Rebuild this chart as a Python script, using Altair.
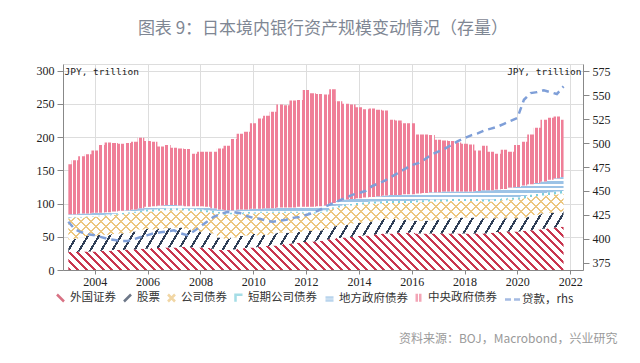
import altair as alt
import numpy as np
import pandas as pd

# ---------------- data (JPY trillion, quarterly 2003Q1-2021Q4) ----------------
quarters = [f"{y}-{m:02d}-01" for y in range(2003, 2022) for m in (1, 4, 7, 10)]

foreign_sec = [27, 27, 28, 28, 28, 29, 29, 30, 30, 31, 31, 32, 32, 33, 33, 34,
               34, 35, 35, 34, 34, 33, 32, 30, 30, 31, 32, 33, 34, 35, 36, 37,
               38, 39, 40, 41, 42, 43, 44, 46, 47, 48, 49, 50, 51, 52, 53, 54,
               55, 55, 56, 56, 56, 55, 55, 55, 55, 55, 55, 55, 55, 55, 55, 55,
               56, 57, 58, 58, 58, 59, 60, 61, 62, 63, 64, 65]
stocks = [19, 20, 21, 23, 24, 24, 24, 24, 25, 25, 27, 29, 30, 28, 29, 29,
          30, 29, 27, 26, 24, 25, 23, 19, 17, 18, 19, 19, 20, 17, 17, 18,
          18, 17, 16, 16, 18, 16, 16, 16, 19, 19, 19, 20, 20, 20, 20, 21,
          22, 22, 20, 20, 19, 19, 19, 20, 21, 22, 23, 24, 24, 24, 25, 23,
          22, 21, 20, 22, 20, 20, 20, 22, 23, 23, 23, 23]
corp_bonds = [32, 32, 30, 29, 28, 28, 29, 29, 29, 29, 28, 26, 26, 27, 27, 27,
              26, 26, 27, 29, 30, 29, 31, 36, 36, 35, 33, 33, 31, 34, 33, 31,
              30, 30, 30, 29, 25, 26, 26, 26, 26, 27, 28, 27, 27, 27, 27, 25,
              24, 24, 25, 25, 26, 28, 28, 28, 27, 26, 26, 25, 25, 25, 24, 25,
              25, 26, 27, 26, 28, 29, 30, 28, 27, 27, 27, 27]
short_corp = [1, 1, 1, 1, 1, 1, 1.5, 1.5, 2, 2, 2, 2, 3, 3, 3, 3,
              3, 3, 3, 3, 3, 3, 3, 2.5, 2.5, 2.5, 2.5, 2.5, 2, 2, 2, 2,
              2, 2, 2, 2, 2, 2, 2, 2, 2.5, 2.5, 2.5, 2.5, 3, 3, 3, 3,
              3, 3, 3, 3, 3, 3, 3, 3, 3, 3, 3, 3, 3, 3, 3, 3,
              3, 3, 3, 3, 3.5, 3.5, 3.5, 3.5, 4, 4, 4, 4]
local_gov = [5, 4, 5, 4, 5, 4, 3.5, 3.5, 3, 3, 3, 4, 4, 5, 5, 5,
             5, 4, 4, 4, 5, 5, 4, 3.5, 4.5, 3.5, 4.5, 3.5, 5, 4, 5, 5,
             6, 6, 6, 7, 8, 8, 8, 7, 6.5, 7.5, 7.5, 7.5, 7, 7, 7, 8,
             8, 9, 9, 10, 10, 10, 11, 11, 11, 12, 11, 11, 11, 11, 12, 14,
             14, 14, 14, 15, 15.5, 15.5, 15.5, 16.5, 17, 19, 20, 21]
central_gov = [75, 81, 86, 89, 94, 102, 105, 103, 101, 101, 102, 106, 99, 97, 89, 90,
               86, 86, 86, 79, 82, 83, 85, 92, 97, 107, 114, 117, 129, 136, 139, 145,
               155, 154, 161, 161, 176, 171, 169, 167, 171, 150, 144, 142, 137, 133, 133, 130,
               128, 113, 112, 107, 107, 89, 88, 86, 79, 77, 76, 74, 72, 71, 61, 67,
               58, 54, 59, 54, 63, 66, 75, 83, 93, 93, 93, 86]
loans = [418, 410, 407, 405, 404, 402, 400, 399, 398, 398, 400, 402, 404, 406, 407, 408,
         409, 406, 404, 408, 413, 418, 423, 426, 428, 428, 427, 424, 422, 421, 419, 418,
         419, 420, 422, 423, 425, 427, 430, 434, 437, 440, 443, 446, 448, 450, 455, 458,
         461, 465, 469, 473, 477, 479, 483, 488, 491, 494, 498, 502, 505, 508, 510, 513,
         515, 517, 520, 523, 526, 545, 552, 553, 555, 553, 551, 559]

series_names = ["外国证券", "股票", "公司债券", "短期公司债券", "地方政府债券", "中央政府债券"]
loan_name = "贷款，rhs"
x_tick_years = list(range(2004, 2023, 2))
left_ticks = [0, 50, 100, 150, 200, 250, 300]
right_ticks = [375, 400, 425, 450, 475, 500, 525, 550, 575]

# ---------------- layout / style ----------------
W, H = 520, 206
L_DOM = [0, 310]
R_DOM = [367.7, 582.3]
X_DOM = ("2002-10-19", "2022-06-27")

RED, NAVY, YEL, TEAL, LBLUE, PINK, LOANC = ("#c8364f", "#2f3e56", "#ecc67e", "#7fcfdc",
                                             "#9cc3e6", "#ef7f98", "#7f9fd8")
WHITE, CLEAR = "#ffffff", "rgba(255,255,255,0)"
SERIF = "'Liberation Serif', 'Times New Roman', 'DejaVu Serif', serif"
CJK = "'Noto Sans CJK SC', sans-serif"
MONO = "'DejaVu Sans Mono', 'Liberation Mono', monospace"


def dt(s):
    t = pd.Timestamp(s)
    return alt.DateTime(year=t.year, month=t.month, date=t.day, utc=True)


df = pd.DataFrame({"date": quarters, "loans": loans})
vals = np.array([foreign_sec, stocks, corp_bonds, short_corp, local_gov, central_gov], dtype=float)
cum = np.vstack([np.zeros(len(quarters)), np.cumsum(vals, axis=0)])
for i in range(cum.shape[0]):
    df[f"b{i}"] = cum[i]

# pixel geometry of each stacked band (for pattern gradients)
t0, t1 = pd.Timestamp(X_DOM[0]), pd.Timestamp(X_DOM[1])
band_w = W * (pd.Timestamp(quarters[-1]) - pd.Timestamp(quarters[0])).value / (t1 - t0).value


def band_h(i):
    return (cum[i + 1].max() - cum[i].min()) * H / (L_DOM[1] - L_DOM[0])


def hatch(w, h, slope, period, frac, fg, bg, horizontal=False):
    """Striped fill built from a hard-stop linear gradient (bbox units)."""
    if horizontal:
        p1, p2, span = (0.0, 0.0), (0.0, 1.0), h
    else:
        k = slope * h / w
        dd = 1 + k * k
        f0, f1 = min(0.0, k), 1 + max(0.0, k)
        L = f1 - f0
        p1 = (f0 / dd, k * f0 / dd)
        p2 = (p1[0] + L / dd, p1[1] + k * L / dd)
        span = w * L
    n = span / period
    stops = []
    i = 0
    while i < n:
        a = i / n
        b = min((i + frac) / n, 1.0)
        c = min((i + 1) / n, 1.0)
        stops += [alt.GradientStop(offset=round(a, 5), color=fg),
                  alt.GradientStop(offset=round(b, 5), color=fg),
                  alt.GradientStop(offset=round(b, 5), color=bg),
                  alt.GradientStop(offset=round(c, 5), color=bg)]
        i += 1
    return alt.LinearGradient(gradient="linear", stops=stops,
                              x1=p1[0], y1=p1[1], x2=p2[0], y2=p2[1])


x_scale = alt.Scale(type="utc", domain=[dt(X_DOM[0]), dt(X_DOM[1])])
x_axis = alt.Axis(values=[alt.DateTime(year=y, month=1, date=1, utc=True) for y in x_tick_years],
                  format="%Y", labelFont=SERIF, labelFontSize=12, labelColor="#222",
                  tickSize=4, labelPadding=2, labelFlush=False,
                  title="资料来源：BOJ，Macrobond，兴业研究", titleFont=CJK, titleFontSize=12,
                  titleFontWeight="normal", titleColor="#9a9a9a", titleAlign="right",
                  titleBaseline="middle", titleX=554, titleY=68, titleAngle=0)
X = alt.X("date:T", scale=x_scale, axis=x_axis)
ys = alt.Scale(domain=L_DOM, nice=False, zero=False)
left_axis = alt.Axis(values=left_ticks, orient="left", tickSize=6, labelPadding=3,
                     labelFont=SERIF, labelFontSize=12, labelColor="#222",
                     title="JPY, trillion", titleFont=MONO, titleFontSize=9.5,
                     titleFontWeight="normal", titleColor="#222", titleAngle=0,
                     titleAlign="left", titleBaseline="middle", titleX=1, titleY=7)

base = alt.Chart(df)


def band(i, fill):
    return base.mark_area(interpolate="step", fill=fill).encode(
        x=X,
        y=alt.Y(f"b{i + 1}:Q", scale=ys, axis=left_axis),
        y2=alt.Y2(f"b{i}:Q"),
    )


layers = [
    band(0, hatch(band_w, band_h(0), -1.0, 8.5, 0.34, RED, WHITE)),
    band(1, hatch(band_w, band_h(1), 0.6, 11.0, 0.22, NAVY, WHITE)),
    band(2, hatch(band_w, band_h(2), -1.0, 10.0, 0.17, YEL, WHITE)),
    band(2, hatch(band_w, band_h(2), 1.0, 10.0, 0.17, YEL, CLEAR)),
    band(3, hatch(band_w, band_h(3), 0.0, 6.0, 0.3, TEAL, WHITE)),
    band(4, hatch(band_w, band_h(4), 0.0, 4.5, 0.5, LBLUE, WHITE, horizontal=True)),
    band(5, hatch(band_w, band_h(5), 0.0, 4.4, 0.72, PINK, WHITE)),
]

# legend (invisible clipped points carrying colour + icon shape)
legend_names = series_names + [loan_name]
legend_colors = [RED, NAVY, YEL, TEAL, LBLUE, PINK, LOANC]
legend_shapes = ["M-0.7,-0.7L0.7,0.7",
                 "M-0.7,0.7L0.7,-0.7",
                 "M-0.7,-0.7L0.7,0.7M-0.7,0.7L0.7,-0.7",
                 "M-0.6,0.8L-0.6,-0.6L0.8,-0.6",
                 "M-0.8,-0.3L0.8,-0.3M-0.8,0.3L0.8,0.3",
                 "M-0.35,-0.8L-0.35,0.8M0.35,-0.8L0.35,0.8",
                 "M-1.5,0L-0.3,0M0.3,0L1.5,0"]
leg_df = pd.DataFrame({"name": legend_names, "date": quarters[0], "v": -100})
leg = alt.Legend(title=None, orient="none", legendX=-9, legendY=227, direction="horizontal",
                 labelFont=CJK, labelFontSize=11.5, labelColor="#333", symbolSize=100,
                 symbolStrokeWidth=2.5, columnPadding=3, labelOffset=3)
legend_layer = alt.Chart(leg_df).mark_point(filled=False, clip=True).encode(
    x=X,
    y=alt.Y("v:Q", scale=ys, axis=left_axis),
    color=alt.Color("name:N", scale=alt.Scale(domain=legend_names, range=legend_colors), legend=leg),
    shape=alt.Shape("name:N", scale=alt.Scale(domain=legend_names, range=legend_shapes), legend=leg),
)

left_group = alt.layer(*layers, legend_layer)

right_axis = alt.Axis(values=right_ticks, orient="right", tickSize=6, labelPadding=3,
                      labelFont=SERIF, labelFontSize=12, labelColor="#222",
                      title="JPY, trillion", titleFont=MONO, titleFontSize=9.5,
                      titleFontWeight="normal", titleColor="#222", titleAngle=0,
                      titleAlign="right", titleBaseline="middle", titleX=-2, titleY=7)
line = alt.Chart(df).mark_line(color=LOANC, strokeWidth=2.5, strokeDash=[7, 5]).encode(
    x=X,
    y=alt.Y("loans:Q", scale=alt.Scale(domain=R_DOM, nice=False, zero=False), axis=right_axis),
)

chart = alt.layer(left_group, line).resolve_scale(y="independent").properties(
    width=W, height=H,
    padding={"left": 55, "top": 56, "right": 49, "bottom": 85},
    autosize=alt.AutoSizeParams(type="none"),
    title=alt.TitleParams("图表 9：日本境内银行资产规模变动情况（存量）", font=CJK, fontSize=17,
                          fontWeight="normal", color="#7f8794", anchor="middle", offset=26),
).configure_view(stroke=None).configure_axis(
    grid=False, domainColor="#444", tickColor="#444"
).configure(background="white")

chart.save("out.html", embed_options={"renderer": "svg", "actions": False})
